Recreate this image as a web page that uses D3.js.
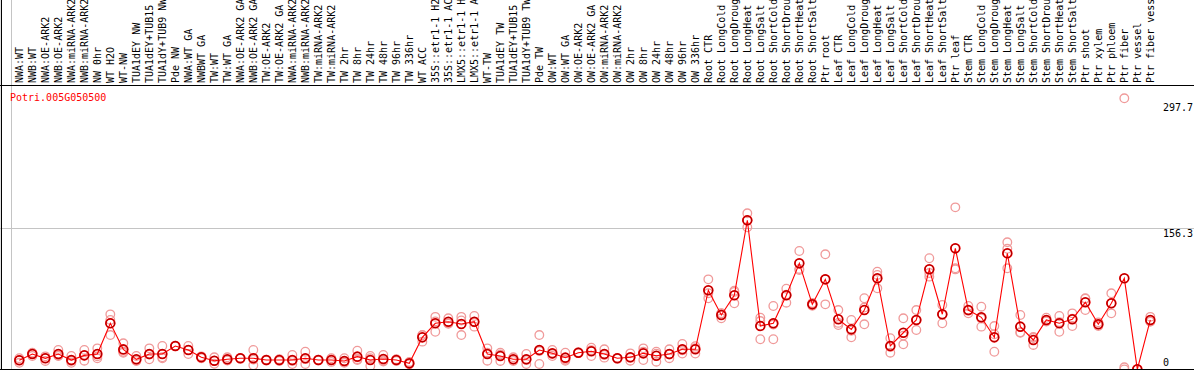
<!DOCTYPE html>
<html>
<head>
<meta charset="utf-8">
<script src="https://cdn.jsdelivr.net/npm/d3@7"></script>
<style>
  html, body { margin: 0; padding: 0; background: #fff; }
  svg { display: block; }
  text { font-family: "DejaVu Sans Mono", monospace; font-size: 10px; }
</style>
</head>
<body>
<svg id="chart"></svg>
<script>
// gene shown in the chart
const geneName = "Potri.005G050500";

// sample names, in plot order
const sampleNames = [
  "NWA:WT", "NWB:WT", "NWA:OE-ARK2", "NWB:OE-ARK2", "NWA:miRNA-ARK2", "NWB:miRNA-ARK2",
  "NW 0hr", "WT H2O", "WT-NW", "TUA1dEY NW", "TUA1dEY+TUB15 NW", "TUA1dY+TUB9 NW", "Pde NW",
  "NWA:WT GA", "NWBWT GA", "TW:WT", "TW:WT GA", "NWA:OE-ARK2 GA", "NWB:OE-ARK2 GA",
  "TW:OE-ARK2", "TW:OE-ARK2 GA", "NWA:miRNA-ARK2", "NWB:miRNA-ARK2", "TW:miRNA-ARK2", "TW:miRNA-ARK2",
  "TW 2hr", "TW 8hr", "TW 24hr", "TW 48hr", "TW 96hr", "TW 336hr", "WT ACC",
  "35S::etr1-1 H2O", "35S::etr1-1 ACC", "LMX5::etr1-1 H2O", "LMX5::etr1-1 ACC",
  "WT-TW", "TUA1dEY TW", "TUA1dEY+TUB15 TW", "TUA1dY+TUB9 TW", "Pde TW",
  "OW:WT", "OW:WT GA", "OW:OE-ARK2", "OW:OE-ARK2 GA", "OW:miRNA-ARK2", "OW:miRNA-ARK2",
  "OW 2hr", "OW 8hr", "OW 24hr", "OW 48hr", "OW 96hr", "OW 336hr",
  "Root CTR", "Root LongCold", "Root LongDrought", "Root LongHeat", "Root LongSalt",
  "Root ShortCold", "Root ShortDrought", "Root ShortHeat", "Root ShortSalt", "Ptr root",
  "Leaf CTR", "Leaf LongCold", "Leaf LongDrought", "Leaf LongHeat", "Leaf LongSalt",
  "Leaf ShortCold", "Leaf ShortDrought", "Leaf ShortHeat", "Leaf ShortSalt", "Ptr leaf",
  "Stem CTR", "Stem LongCold", "Stem LongDrought", "Stem LongHeat", "Stem LongSalt",
  "Stem ShortCold", "Stem ShortDrought", "Stem ShortHeat", "Stem ShortSalt", "Ptr shoot", "Ptr xylem",
  "Ptr phloem", "Ptr fiber", "Ptr vessel", "Ptr fiber vessel"
];

// how many samples sit in each block between grey lines
const groupSizes = [13, 28, 12, 10, 10, 11, 1, 1, 1, 1];

// mean expression per sample
const meanValues = [
  12.7, 19.6, 14.9, 19.6, 13, 18.1, 19.6, 53, 24.6, 13.8, 19.6, 19.6, 28.3,
  23.9, 16, 12.3, 13.8, 14.9, 14.9, 13, 13, 13, 14.9, 13, 13, 12, 16.7, 13, 14.1, 13, 9.4,
  37.7, 53, 54.7, 52.2, 54.7, 19.6, 17.4, 13.8, 13.8, 23.9,
  20.3, 15.6, 21, 22.5, 19.6, 14.9, 16, 20.3, 17.7, 19.6, 24.7, 24.7,
  88.9, 62, 83.4, 165, 50, 53, 83.4, 118.2, 73.6, 100.8,
  57.3, 46.4, 67.4, 101.9, 28.3, 42.7, 56.6, 111.7, 62.8, 134.5,
  67.4, 59.5, 37.7, 129.1, 49.3, 34.8, 56.6, 53, 57.3, 75.8, 51.9,
  74.7, 101.9, 2.9, 56.6
];

// replicate measurements per sample
const replicateValues = [
  [10, 13, 15], [17.4, 21, 20], [12, 17, 15], [24, 17.4, 18], [10, 17.4, 12], [24, 12.3, 18],
  [25.7, 14.9, 17], [62.7, 56.6, 40.2], [31.2, 21, 22], [17.4, 12, 12.5], [25.7, 13.8, 19],
  [28.3, 16, 15], [28.3, 28, 28.6],
  [28.3, 19.6, 24], [16, 17, 15], [16, 12, 9], [16, 13, 12.5], [15, 14.5, 15.3], [24, 7.3, 13.5],
  [13, 12.5, 13.5], [13, 12, 14], [18.5, 8.7, 12], [22, 8.7, 14], [13, 12.5, 13.5], [15, 11, 13],
  [15, 11, 10], [23.2, 13, 14], [17.4, 6.5, 15], [18.5, 11.5, 12.5], [13, 12, 14], [11, 8.7, 8.5],
  [40.2, 33, 40], [60, 43.8, 55], [58.4, 53, 52.5], [60, 40.2, 56], [60.9, 49.3, 54],
  [25.7, 12.3, 21], [21, 12, 19], [16, 12, 13.5], [19.6, 8.7, 13], [40.2, 8.7, 22.8],
  [24, 17.4, 19.5], [21, 12.3, 13.5], [21, 20.5, 21.5], [26.4, 17.4, 23.7], [24.7, 15.6, 18.5],
  [14.9, 14.5, 15.3], [20.3, 12.3, 15.4], [25.7, 13, 22.2], [22, 11.2, 19.9], [24.7, 15, 19.1],
  [30.5, 20, 23.6], [28, 20, 26],
  [100.8, 80.2, 85.7], [64, 58.4, 63.6], [88.4, 74.7, 87.1], [172.6, 157.4, 165], [59, 35.6, 55.4],
  [71.8, 35.6, 51.6], [90.6, 75.4, 84.2], [131.6, 110.9, 112.1], [75, 72, 73.8], [128, 73.6, 100.8],
  [67.4, 51.1, 53.4], [56.6, 37.7, 44.9], [80.2, 51.9, 70.1], [109.1, 91, 105.6], [36.7, 21, 27.2],
  [58.4, 30.1, 39.6], [67.4, 45.7, 56.7], [123.7, 103.7, 107.7], [72.9, 53, 62.5], [179.1, 112.8, 111.6],
  [71.8, 63.8, 66.6], [71, 49.3, 58.2], [50, 22, 41.1], [141.1, 134, 112.8], [62, 42.7, 43.2],
  [37, 29.4, 38], [59, 55, 55.8], [60.9, 43.8, 54.3], [63.8, 50, 58.1], [80.2, 67.4, 79.8],
  [54, 50, 51.7],
  [85.6, 63.8, 74.7], [297.7, 5.1, 2.9], [3, 2.8, 2.9], [60, 55, 54.8]
];

// value axis
const yMax = 297.7;
const yTicks = [297.7, 156.3, 0];

const width = 1194;
const height = 370;
const plotTop = 85;
const plotBottom = 369;

const svg = d3.select("#chart")
  .attr("width", width)
  .attr("height", height);

// one 13px slot per sample
const x = d3.scaleLinear()
  .domain([0, sampleNames.length])
  .range([11, 11 + 13 * sampleNames.length]);
const xPoint = i => x(i + 0.64);

const y = d3.scaleLinear()
  .domain([0, yMax])
  .range([372, 98.3]);

// clip for the data area
svg.append("clipPath").attr("id", "plotClip")
  .append("rect")
  .attr("x", 2).attr("y", plotTop + 1)
  .attr("width", width).attr("height", plotBottom - plotTop - 1);

// grey block separators
const boundaries = [0].concat(d3.cumsum(groupSizes));
svg.append("g")
  .selectAll("line")
  .data(boundaries)
  .join("line")
  .attr("x1", d => Math.round(x(d)) + 0.5)
  .attr("x2", d => Math.round(x(d)) + 0.5)
  .attr("y1", 0)
  .attr("y2", plotBottom)
  .attr("stroke", "#c4c4c4");

// horizontal grid for inner ticks
svg.append("g")
  .selectAll("line")
  .data(yTicks.filter(t => t > 0 && t < yMax))
  .join("line")
  .attr("x1", 0)
  .attr("x2", width)
  .attr("y1", d => Math.round(y(d)) + 0.5)
  .attr("y2", d => Math.round(y(d)) + 0.5)
  .attr("stroke", "#c4c4c4");

// frame lines
svg.append("line")
  .attr("x1", 0).attr("x2", width)
  .attr("y1", plotTop + 0.5).attr("y2", plotTop + 0.5)
  .attr("stroke", "#000");
svg.append("line")
  .attr("x1", 0).attr("x2", width)
  .attr("y1", plotBottom + 0.5).attr("y2", plotBottom + 0.5)
  .attr("stroke", "#000");
svg.append("line")
  .attr("x1", 1.5).attr("x2", 1.5)
  .attr("y1", 0).attr("y2", plotBottom)
  .attr("stroke", "#000");

// rotated sample labels
svg.append("g")
  .selectAll("text")
  .data(sampleNames)
  .join("text")
  .attr("transform", (d, i) => `translate(${xPoint(i) + 0.5},83) rotate(-90)`)
  .attr("dy", "0.35em")
  .attr("fill", "#000")
  .text(d => d);

// right side value labels
svg.append("g")
  .selectAll("text")
  .data(yTicks)
  .join("text")
  .attr("x", 1163)
  .attr("y", d => d === yMax ? y(d) + 12.5 : (d === 0 ? y(d) - 6.3 : y(d) + 8.3))
  .attr("fill", "#000")
  .text(d => d);

// gene name
svg.append("text")
  .attr("x", 10)
  .attr("y", 100.5)
  .attr("fill", "#ff0000")
  .text(geneName);

const plot = svg.append("g").attr("clip-path", "url(#plotClip)");

// replicate circles
const reps = sampleNames.flatMap((name, i) => replicateValues[i].map(v => ({ i, v })));
plot.append("g")
  .selectAll("circle")
  .data(reps)
  .join("circle")
  .attr("cx", d => xPoint(d.i))
  .attr("cy", d => y(d.v))
  .attr("r", 4.3)
  .attr("fill", "none")
  .attr("stroke", "#f09a9a")
  .attr("stroke-width", 1.3);

// mean line
const line = d3.line()
  .x((d, i) => xPoint(i))
  .y(d => y(d));
plot.append("path")
  .datum(meanValues)
  .attr("d", line)
  .attr("fill", "none")
  .attr("stroke", "#ff0000")
  .attr("stroke-width", 1.1);

// mean circles
const meanGroup = plot.append("g")
  .selectAll("g")
  .data(meanValues)
  .join("g")
  .attr("transform", (d, i) => `translate(${xPoint(i)},${y(d)})`);
meanGroup.append("circle")
  .attr("r", 4.4)
  .attr("fill", "none")
  .attr("stroke", "#ff0000")
  .attr("stroke-width", 1.8);
meanGroup.append("circle")
  .attr("r", 4.4)
  .attr("fill", "none")
  .attr("stroke", "#600000")
  .attr("stroke-width", 0.6);
</script>
</body>
</html>
